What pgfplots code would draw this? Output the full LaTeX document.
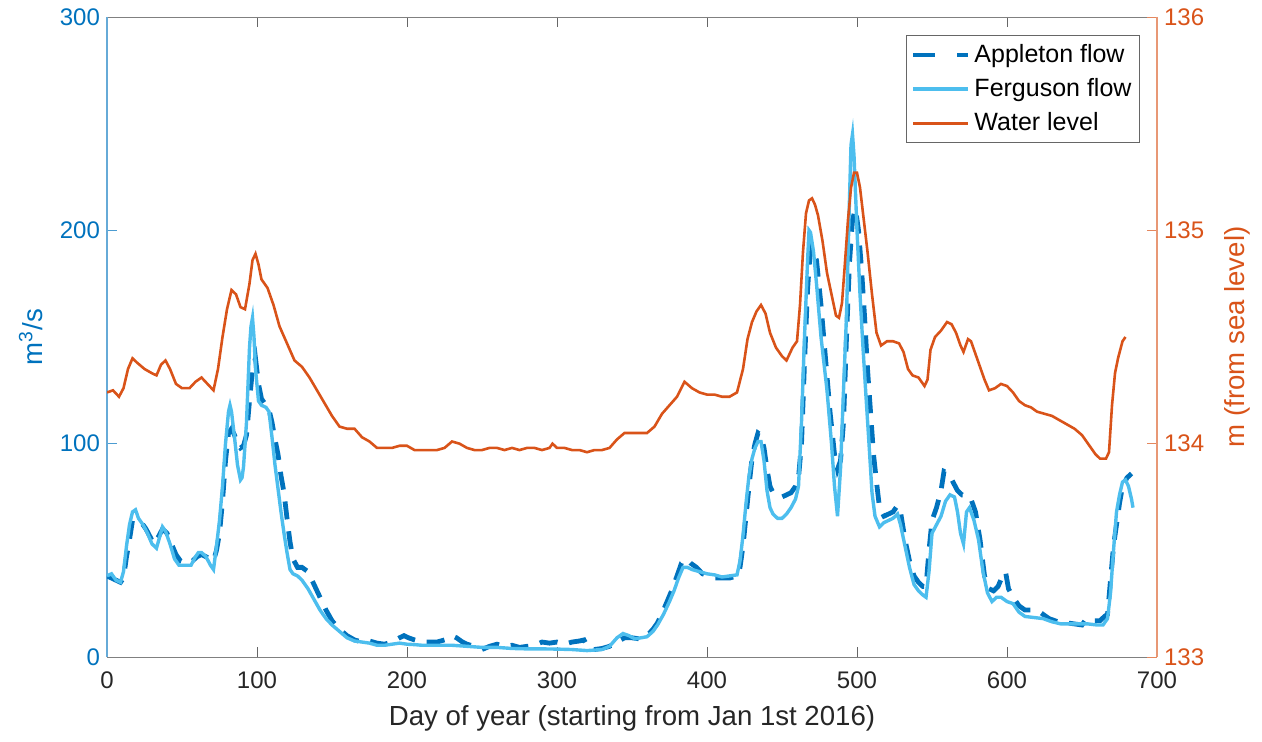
\documentclass[border=0pt]{standalone}
\usepackage{fontspec}
\setmainfont{Liberation Sans}
\usepackage{pgfplots}
\pgfplotsset{compat=1.18}

\definecolor{leftblue}{RGB}{0,114,189}
\definecolor{fergblue}{RGB}{77,190,238}
\definecolor{levelorange}{RGB}{217,83,25}
\definecolor{ticktext}{RGB}{38,38,38}

% water level, m above sea level (right axis)
\pgfplotstableread{
day level
0 134.24
4 134.25
8 134.22
11 134.26
14 134.35
17 134.40
20 134.38
25 134.35
30 134.33
33 134.32
36 134.37
39 134.39
42 134.35
46 134.28
50 134.26
55 134.26
59 134.29
63 134.31
67 134.28
71 134.25
74 134.35
77 134.50
80 134.63
83 134.72
86 134.70
89 134.64
92 134.63
95 134.75
97 134.86
99 134.89
101 134.84
103 134.77
107 134.73
111 134.65
115 134.55
120 134.47
125 134.39
130 134.36
135 134.31
140 134.25
145 134.19
150 134.13
155 134.08
160 134.07
165 134.07
170 134.03
175 134.01
180 133.98
185 133.98
190 133.98
195 133.99
200 133.99
205 133.97
210 133.97
215 133.97
220 133.97
225 133.98
230 134.01
235 134.00
240 133.98
245 133.97
250 133.97
255 133.98
260 133.98
265 133.97
270 133.98
275 133.97
280 133.98
285 133.98
290 133.97
295 133.98
297 134.00
300 133.98
305 133.98
310 133.97
315 133.97
320 133.96
325 133.97
330 133.97
335 133.98
340 134.02
345 134.05
350 134.05
355 134.05
360 134.05
365 134.08
370 134.14
375 134.18
380 134.22
385 134.29
390 134.26
395 134.24
400 134.23
405 134.23
410 134.22
415 134.22
420 134.24
424 134.35
427 134.49
430 134.57
433 134.62
436 134.65
439 134.61
442 134.52
446 134.45
450 134.41
453 134.39
457 134.45
460 134.48
462 134.65
464 134.90
466 135.08
468 135.14
470 135.15
472 135.12
474 135.07
477 134.95
480 134.80
483 134.70
486 134.60
488 134.59
490 134.66
492 134.85
494 135.05
496 135.20
498 135.27
500 135.27
502 135.20
504 135.08
507 134.90
510 134.70
513 134.52
516 134.46
520 134.48
524 134.48
528 134.47
531 134.43
534 134.35
537 134.32
541 134.31
545 134.27
547 134.30
549 134.44
552 134.50
556 134.53
560 134.57
563 134.56
566 134.52
569 134.46
571 134.43
574 134.49
576 134.48
579 134.42
582 134.36
585 134.30
588 134.25
592 134.26
596 134.28
600 134.27
604 134.24
608 134.20
612 134.18
616 134.17
620 134.15
625 134.14
630 134.13
635 134.11
640 134.09
645 134.07
650 134.04
653 134.01
656 133.98
659 133.95
662 133.93
666 133.93
668 133.96
670 134.18
672 134.33
674 134.40
677 134.48
679 134.50
}\levels

% Ferguson flow, m^3/s
\pgfplotstableread{
day flow
0 38
3 39
6 36
9 35
11 40
13 52
15 62
17 68
19 69
21 65
24 62
27 58
30 53
33 51
35 56
37 61
39 59
42 53
45 46
48 43
52 43
56 43
59 47
61 49
63 49
66 47
69 43
71 41
73 52
75 64
77 80
79 100
81 115
82 118
83 115
85 103
87 90
89 83
90 84
91 89
93 110
95 145
96 155
97 159
98 150
99 135
101 120
103 118
106 117
108 115
110 103
112 90
114 79
116 68
118 58
120 49
122 41
124 39
127 38
130 36
134 32
138 27
142 22
146 18
150 15
155 12
160 9
165 7.5
170 7
175 6.5
180 5.5
185 5.5
190 6
195 6.5
200 6
205 5.8
210 5.5
220 5.5
230 5.5
240 5
250 4.5
260 4.5
270 4
280 3.8
290 3.8
300 3.7
310 3.5
320 3
330 3.5
335 5
340 9
344 11
348 10
352 8.5
356 9
360 9.5
364 12
367 15
371 20
375 26
378 31
381 37
384 42
387 42
390 41
395 40
400 39
405 38.5
410 37.5
415 38
420 38.5
422 45
424 57
426 72
428 85
430 93
432 98
434 101
436 101
438 92
440 78
442 70
444 67
447 65
450 65
453 67
456 70
459 74
461 80
463 110
465 150
467 185
468 200
469 199
471 190
473 175
476 150
480 125
483 100
485 80
487 66
489 88
491 125
493 160
495 215
496 240
497 245
498 235
500 200
502 170
504 145
506 122
508 100
510 77
512 66
515 61
518 63
521 64
524 65
527 67
529 62
532 52
535 42
538 34
541 31
544 29
546 28
548 40
550 58
553 62
556 66
559 73
562 76
565 75
567 68
569 58
571 53
573 68
575 70
578 64
581 55
584 40
587 30
590 26
593 28
596 28
600 26
604 25
608 21
612 19
618 18.5
624 18
630 16.5
636 15.5
642 15.5
648 15.5
654 15.5
660 15
664 15
667 18
669 30
671 50
673 68
675 76
677 82
679 83
681 80
683 74
684 70
}\ferguson

% Appleton flow, m^3/s
\pgfplotstableread{
day flow
0 38
3 37
6 36
9 35
11 37
13 47
15 55
17 64
20 64
23 63
26 60
29 56
31 53
34 56
37 60
40 58
43 53
46 48
49 45
53 44
57 45
60 47
63 48
66 47
69 46
71 45
73 50
75 58
77 73
79 92
81 105
83 107
85 104
87 100
89 98
91 99
93 104
95 120
97 135
99 140
101 128
103 121
106 118
108 116
110 110
112 102
114 95
116 85
118 77
120 65
122 54
124 46
127 42
130 42
134 40
138 34
142 28
146 22
150 17
155 13
160 10
165 8
170 7
175 7.5
180 6.5
185 6
190 7
195 9
198 10
201 9
205 8
210 7
215 7
220 7
225 8
230 10
233 9
237 7
240 6
245 5
250 3.5
255 5
260 6
265 5
270 5.5
275 4.5
280 5
285 5.5
290 7
295 6.5
300 7
305 6
310 7
315 7.5
318 8
321 4
325 3.5
330 4
335 5
340 7
345 9
350 9
355 8.5
360 10
364 13
367 16
371 22
374 27
377 32
380 38
383 44
386 46
389 44
393 42
397 39
401 38
405 37
410 37
415 37
420 38
422 42
424 52
426 66
428 80
430 93
432 100
434 105
436 104
438 98
440 88
442 80
444 77
447 76
450 75
453 76
456 77
459 80
461 84
463 100
465 138
467 172
469 192
471 190
473 186
476 165
479 140
482 115
485 95
487 88
489 92
491 110
493 150
495 185
497 205
499 210
501 200
503 182
505 160
507 135
509 115
511 95
513 82
515 70
518 66
521 67
524 68
527 71
529 68
532 55
535 45
538 38
541 35
544 33
546 33
548 50
550 64
553 70
556 78
558 87
561 86
564 82
567 78
570 76
573 76
576 74
579 68
582 55
585 38
588 32
591 31
594 33
597 38
599 40
601 32
604 28
608 24
612 22
616 22
620 22
624 20
628 18
632 17
636 16
640 16
645 15.5
650 15
653 18
656 17
659 17
662 17
665 19
667 20
669 36
671 52
673 62
675 72
677 80
680 84
683 86
}\appleton

\pgfplotsset{
    matlab/.style={
        scale only axis,
        width=525pt,
        height=320pt,
        xmin=0, xmax=700,
        tick align=inside,
        major tick length=5pt,
        /pgf/number format/assume math mode=true,
        tick label style={font=\fontsize{12}{14}\selectfont},
    },
}

\begin{document}
\begin{tikzpicture}
\begin{axis}[
    matlab,
    name=ax,
    ymin=0, ymax=300,
    axis x line=box,
    axis y line*=left,
    x axis line style={draw=black!50},
    y axis line style={-, draw=leftblue!60, line width=0.6pt},
    xtick={0,100,...,700},
    ytick={0,100,200,300},
    x tick style={black!60},
    y tick style={leftblue!70},
    xticklabel style={text=ticktext, yshift=-4pt},
    yticklabel style={text=leftblue},
    xlabel={Day of year (starting from Jan 1st 2016)},
    xlabel style={font=\fontsize{13.8}{16}\selectfont, text=ticktext,
        at={(rel axis cs:0.5,-0.0953)}, anchor=center},
    ylabel={m\textsuperscript{3}/s},
    ylabel style={font=\fontsize{13.8}{16}\selectfont, text=leftblue,
        at={(rel axis cs:-0.061,0.5)}, anchor=base, rotate=0},
]
\addplot[color=leftblue, line width=2.4pt, dash pattern=on 9pt off 6pt] table[x=day, y=flow] {\appleton};
\addplot[color=fergblue, line width=1.7pt] table[x=day, y=flow] {\ferguson};
\end{axis}

\begin{axis}[
    matlab,
    at={(ax.south west)},
    ymin=133, ymax=136,
    axis x line=none,
    axis y line*=right,
    y axis line style={-, draw=levelorange!60, line width=0.6pt},
    ytick={133,134,135,136},
    y tick style={levelorange!70},
    yticklabel style={text=levelorange},
    ylabel={m (from sea level)},
    ylabel style={font=\fontsize{13.8}{16}\selectfont, text=levelorange,
        at={(rel axis cs:1.0829,0.5)}, anchor=base, rotate=0},
    legend style={
        at={(rel axis cs:0.9838,0.9719)}, anchor=north east,
        draw=black!60, line width=0.5pt,
        font=\fontsize{12.5}{15}\selectfont,
        inner xsep=2pt, inner ysep=2.5pt,
        row sep=2.5pt,
        nodes={inner sep=2pt, text=black},
    },
    legend cell align=left,
    legend image code/.code={\draw[#1] (0pt,0pt) -- (27.5pt,0pt);},
]
\addlegendimage{color=leftblue, line width=2.4pt, dash pattern=on 11pt off 11pt}
\addlegendentry{Appleton flow}
\addlegendimage{color=fergblue, line width=1.7pt}
\addlegendentry{Ferguson flow}
\addplot[color=levelorange, line width=1.3pt] table[x=day, y=level] {\levels};
\addlegendentry{Water level}
\end{axis}

\pgfresetboundingbox
\path ([shift={(-53.5pt,-42.5pt)}]ax.south west) rectangle ([shift={(52.5pt,8.5pt)}]ax.north east);
\end{tikzpicture}
\end{document}
